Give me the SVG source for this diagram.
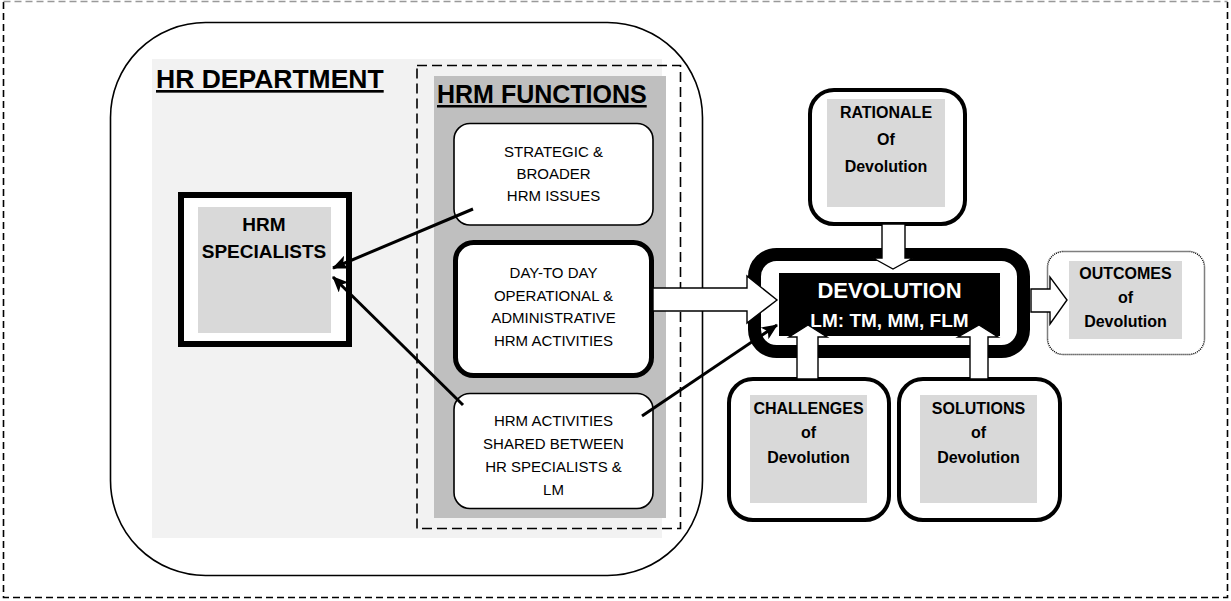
<svg xmlns="http://www.w3.org/2000/svg" width="1231" height="601" viewBox="0 0 1231 601">
<defs>
<style>
text{font-family:"Liberation Sans",Arial,sans-serif;text-anchor:middle;fill:#000}
.b{font-weight:bold}
.r{font-size:15px}
.h{font-size:16px;font-weight:bold}
.title{font-weight:bold;text-anchor:start;text-decoration:underline}
.gin{fill:#d9d9d9}
.thick{fill:#fff;stroke:#000;stroke-width:4}
.thin{fill:#fff;stroke:#000;stroke-width:1.6}
.blk{fill:#fff;stroke:#000;stroke-width:1.4;stroke-linejoin:miter}
.ln{stroke:#000;stroke-width:3;fill:none}
</style>
<marker id="ah" markerUnits="userSpaceOnUse" markerWidth="16" markerHeight="14" viewBox="0 0 16 14" refX="15" refY="7" orient="auto">
<path d="M0,0 L16,7 L0,14 L4,7 Z" fill="#000"/>
</marker>
</defs>

<g id="frame">
<path d="M3.5,2 V597.5 H1227.5 V2" fill="none" stroke="#000" stroke-width="1.6" stroke-dasharray="7 4"/>
<line x1="3.5" y1="1.5" x2="1227.5" y2="1.5" stroke="#999" stroke-width="1.5" stroke-dasharray="7 4"/>
</g>

<g id="hr-department">
<rect x="110.5" y="22.5" width="592" height="553" rx="95" ry="95" fill="#fff" stroke="#000" stroke-width="1.6"/>
<rect x="152" y="59" width="510" height="479" fill="#f2f2f2"/>
<text class="title" x="156" y="88" font-size="26.5">HR DEPARTMENT</text>
</g>

<g id="hrm-functions">
<rect x="417" y="65.5" width="263.5" height="463" fill="none" stroke="#000" stroke-width="1.6" stroke-dasharray="10 5"/>
<rect x="434" y="76" width="232" height="442" fill="#bfbfbf"/>
<text class="title" x="437" y="103" font-size="25">HRM FUNCTIONS</text>
</g>

<g id="hrm-specialists">
<rect x="181" y="195" width="168" height="149" fill="#fff" stroke="#000" stroke-width="6"/>
<rect class="gin" x="198" y="207" width="133" height="126"/>
<text class="b" x="264" y="231" font-size="19">HRM</text>
<text class="b" x="264" y="258" font-size="19">SPECIALISTS</text>
</g>

<g id="strategic">
<rect class="thin" x="454" y="123.5" width="199" height="101.5" rx="16"/>
<text class="r" x="553.5" y="157">STRATEGIC &amp;</text>
<text class="r" x="553.5" y="179">BROADER</text>
<text class="r" x="553.5" y="201">HRM ISSUES</text>
</g>

<g id="day-to-day">
<rect x="455.5" y="242.5" width="196" height="133" rx="18" fill="#fff" stroke="#000" stroke-width="5"/>
<text class="r" x="553.5" y="278">DAY-TO DAY</text>
<text class="r" x="553.5" y="301">OPERATIONAL &amp;</text>
<text class="r" x="553.5" y="323">ADMINISTRATIVE</text>
<text class="r" x="553.5" y="346">HRM ACTIVITIES</text>
</g>

<g id="shared">
<rect class="thin" x="454" y="393.5" width="199" height="115" rx="16"/>
<text class="r" x="553.5" y="426">HRM ACTIVITIES</text>
<text class="r" x="553.5" y="449">SHARED BETWEEN</text>
<text class="r" x="553.5" y="472">HR SPECIALISTS &amp;</text>
<text class="r" x="553.5" y="495">LM</text>
</g>

<g id="rationale">
<rect class="thick" x="810" y="90" width="155" height="134" rx="24"/>
<rect class="gin" x="827" y="99" width="118" height="108"/>
<text class="h" x="886" y="118">RATIONALE</text>
<text class="h" x="886" y="145">Of</text>
<text class="h" x="886" y="172">Devolution</text>
</g>

<g id="challenges">
<rect class="thick" x="729" y="379" width="160" height="141" rx="24"/>
<rect class="gin" x="750" y="395" width="117" height="108"/>
<text class="h" x="808.5" y="414">CHALLENGES</text>
<text class="h" x="808.5" y="438">of</text>
<text class="h" x="808.5" y="463">Devolution</text>
</g>

<g id="solutions">
<rect class="thick" x="899" y="379" width="161" height="141" rx="24"/>
<rect class="gin" x="920" y="395" width="117" height="108"/>
<text class="h" x="978.5" y="414">SOLUTIONS</text>
<text class="h" x="978.5" y="438">of</text>
<text class="h" x="978.5" y="463">Devolution</text>
</g>

<g id="outcomes">
<rect x="1047.5" y="251.5" width="157" height="103" rx="16" fill="#fff" stroke="#000" stroke-width="1.5" stroke-dasharray="1 1"/>
<rect class="gin" x="1069" y="261" width="113" height="78"/>
<text class="h" x="1125.5" y="279">OUTCOMES</text>
<text class="h" x="1125.5" y="303">of</text>
<text class="h" x="1125.5" y="327">Devolution</text>
</g>

<g id="devolution">
<rect x="754.5" y="254.5" width="269" height="97" rx="22" fill="#fff" stroke="#000" stroke-width="13"/>
<rect x="779" y="273" width="221" height="63" fill="#000"/>
<text class="b" x="889.5" y="298" font-size="22" style="fill:#fff">DEVOLUTION</text>
<text class="b" x="889.5" y="327" font-size="19" style="fill:#fff">LM: TM, MM, FLM</text>
</g>

<g id="connectors">
<line class="ln" x1="473" y1="209" x2="333" y2="268" marker-end="url(#ah)"/>
<line class="ln" x1="463" y1="405" x2="333" y2="277" marker-end="url(#ah)"/>
<line class="ln" x1="642" y1="416" x2="777" y2="325" marker-end="url(#ah)"/>
<path class="blk" d="M653,288 H747 V276 L777,300 L747,323 V311 H653 Z"/>
<path class="blk" d="M1031,289 H1050 V277 L1067,300 L1050,324 V312 H1031 Z"/>
<path class="blk" d="M882,224 H905 V258 H913 L893,269 L873,258 H882 Z"/>
<path class="blk" d="M797,379 V337 H789 L808,325 L827,337 H818 V379 Z"/>
<path class="blk" d="M970,379 V337 H958 L979,325 L998,337 H988 V379 Z"/>
</g>
</svg>
